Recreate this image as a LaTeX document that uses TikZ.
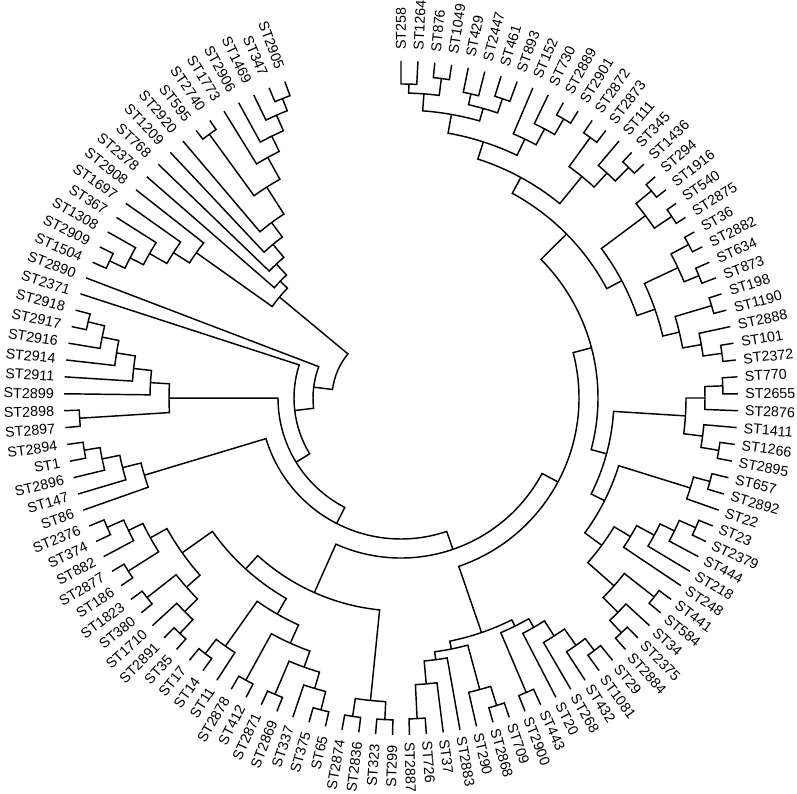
\documentclass[tikz,border=0pt]{standalone}
\usepackage{fontspec}
\setmainfont{Liberation Sans}
\begin{document}
\begin{tikzpicture}[x=1pt,y=1pt,
  br/.style={line width=1.45pt},
  lab/.style={font=\fontsize{14.3}{16}\selectfont, inner sep=0pt}]
\useasboundingbox (-401,-395) rectangle (396,398);
\def\RL{337}
\newcommand\Lf[3]{%
  \pgfmathsetmacro\myang{90-(#2-1)*2.88}%
  \expandafter\xdef\csname ang@#1\endcsname{\myang}%
  \coordinate (#1) at (\myang:\RL pt);%
  \ifdim\myang pt>-90pt
    \pgfmathsetmacro\myr{344+4*max(0,sin(\myang))}%
    \node[lab,rotate=\myang,anchor=west] (T#1) at (\myang:\myr pt) {#3};%
  \else
    \pgfmathsetmacro\myr{347+4*max(0,sin(\myang))}%
    \pgfmathsetmacro\myrot{\myang+180}%
    \node[lab,rotate=\myrot,anchor=east] (T#1) at (\myang:\myr pt) {#3};%
  \fi}
\newcommand\Nd[4]{%
  \edef\myA{\csname ang@#2\endcsname}%
  \edef\myB{\csname ang@#3\endcsname}%
  \pgfmathsetmacro\myM{(\myA+\myB)/2}%
  \expandafter\xdef\csname ang@#1\endcsname{\myM}%
  \draw[br] (#2) -- (\myA:#4pt) arc[start angle=\myA, end angle=\myB, radius=#4pt] -- (#3);%
  \coordinate (#1) at (\myM:#4pt);}
% leaves
\Lf{L1}{1}{ST258}\Lf{L2}{2}{ST1264}\Lf{L3}{3}{ST876}\Lf{L4}{4}{ST1049}
\Lf{L5}{5}{ST429}\Lf{L6}{6}{ST2447}\Lf{L7}{7}{ST461}\Lf{L8}{8}{ST893}
\Lf{L9}{9}{ST152}\Lf{L10}{10}{ST730}\Lf{L11}{11}{ST2889}\Lf{L12}{12}{ST2901}
\Lf{L13}{13}{ST2872}\Lf{L14}{14}{ST2873}\Lf{L15}{15}{ST111}\Lf{L16}{16}{ST345}
\Lf{L17}{17}{ST1436}\Lf{L18}{18}{ST294}\Lf{L19}{19}{ST1916}\Lf{L20}{20}{ST540}
\Lf{L21}{21}{ST2875}\Lf{L22}{22}{ST36}\Lf{L23}{23}{ST2882}\Lf{L24}{24}{ST634}
\Lf{L25}{25}{ST873}\Lf{L26}{26}{ST198}\Lf{L27}{27}{ST1190}\Lf{L28}{28}{ST2888}
\Lf{L29}{29}{ST101}\Lf{L30}{30}{ST2372}\Lf{L31}{31}{ST770}\Lf{L32}{32}{ST2655}
\Lf{L33}{33}{ST2876}\Lf{L34}{34}{ST1411}\Lf{L35}{35}{ST1266}\Lf{L36}{36}{ST2895}
\Lf{L37}{37}{ST657}\Lf{L38}{38}{ST2892}\Lf{L39}{39}{ST22}\Lf{L40}{40}{ST23}
\Lf{L41}{41}{ST2379}\Lf{L42}{42}{ST444}\Lf{L43}{43}{ST218}\Lf{L44}{44}{ST248}
\Lf{L45}{45}{ST441}\Lf{L46}{46}{ST584}\Lf{L47}{47}{ST34}\Lf{L48}{48}{ST2375}
\Lf{L49}{49}{ST2884}\Lf{L50}{50}{ST29}\Lf{L51}{51}{ST1081}\Lf{L52}{52}{ST432}
\Lf{L53}{53}{ST268}\Lf{L54}{54}{ST20}\Lf{L55}{55}{ST443}\Lf{L56}{56}{ST2900}
\Lf{L57}{57}{ST709}\Lf{L58}{58}{ST2868}\Lf{L59}{59}{ST290}\Lf{L60}{60}{ST2883}
\Lf{L61}{61}{ST37}\Lf{L62}{62}{ST726}\Lf{L63}{63}{ST2887}\Lf{L64}{64}{ST299}
\Lf{L65}{65}{ST323}\Lf{L66}{66}{ST2836}\Lf{L67}{67}{ST2874}\Lf{L68}{68}{ST65}
\Lf{L69}{69}{ST375}\Lf{L70}{70}{ST337}\Lf{L71}{71}{ST2869}\Lf{L72}{72}{ST2871}
\Lf{L73}{73}{ST412}\Lf{L74}{74}{ST2878}\Lf{L75}{75}{ST11}\Lf{L76}{76}{ST14}
\Lf{L77}{77}{ST17}\Lf{L78}{78}{ST35}\Lf{L79}{79}{ST2891}\Lf{L80}{80}{ST1710}
\Lf{L81}{81}{ST380}\Lf{L82}{82}{ST1823}\Lf{L83}{83}{ST186}\Lf{L84}{84}{ST2877}
\Lf{L85}{85}{ST882}\Lf{L86}{86}{ST374}\Lf{L87}{87}{ST2376}\Lf{L88}{88}{ST86}
\Lf{L89}{89}{ST147}\Lf{L90}{90}{ST2896}\Lf{L91}{91}{ST1}\Lf{L92}{92}{ST2894}
\Lf{L93}{93}{ST2897}\Lf{L94}{94}{ST2898}\Lf{L95}{95}{ST2899}\Lf{L96}{96}{ST2911}
\Lf{L97}{97}{ST2914}\Lf{L98}{98}{ST2916}\Lf{L99}{99}{ST2917}\Lf{L100}{100}{ST2918}
\Lf{L101}{101}{ST2371}\Lf{L102}{102}{ST2890}\Lf{L103}{103}{ST1504}\Lf{L104}{104}{ST2909}
\Lf{L105}{105}{ST1308}\Lf{L106}{106}{ST367}\Lf{L107}{107}{ST1697}\Lf{L108}{108}{ST2908}
\Lf{L109}{109}{ST2378}\Lf{L110}{110}{ST768}\Lf{L111}{111}{ST1209}\Lf{L112}{112}{ST2920}
\Lf{L113}{113}{ST595}\Lf{L114}{114}{ST2740}\Lf{L115}{115}{ST1773}\Lf{L116}{116}{ST2906}
\Lf{L117}{117}{ST1469}\Lf{L118}{118}{ST347}\Lf{L119}{119}{ST2905}
% top
\Nd{a1}{L1}{L2}{314}\Nd{a2}{L3}{L4}{322}\Nd{a3}{a1}{a2}{305}
\Nd{a4}{L5}{L6}{312}\Nd{a5}{L7}{L8}{316}\Nd{a6}{a4}{a5}{301}
\Nd{a7}{a3}{a6}{288}
\Nd{b1}{L11}{L12}{323}\Nd{b2}{L10}{b1}{305}\Nd{b3}{L9}{b2}{287}
\Nd{c}{a7}{b3}{269}
\Nd{d1}{L13}{L14}{322}\Nd{d2}{L16}{L17}{324}\Nd{d3}{L15}{d2}{305}
\Nd{d4}{d1}{d3}{286}
\Nd{e}{c}{d4}{251}
% right
\Nd{f1}{L18}{L19}{325}\Nd{f2}{L20}{L21}{326}\Nd{f3}{f1}{f2}{305}
\Nd{g1}{L22}{L23}{326}\Nd{g2}{L24}{L25}{322}\Nd{g3}{g1}{g2}{306}
\Nd{h0}{L26}{L27}{324}\Nd{h1}{L29}{L30}{324}\Nd{h2}{L28}{h1}{305}
\Nd{H}{h0}{h2}{286}\Nd{gh}{g3}{H}{269}\Nd{fg}{f3}{gh}{250}
\Nd{EF}{e}{fg}{233}
\Nd{i1}{L31}{L32}{322}\Nd{i2}{i1}{L33}{304}\Nd{i3}{L35}{L36}{322}
\Nd{i4}{L34}{i3}{304}\Nd{i5}{i2}{i4}{285}
\Nd{j1}{L37}{L38}{320}\Nd{j2}{j1}{L39}{303}
\Nd{k1}{L40}{L41}{322}\Nd{k2}{k1}{L42}{304}\Nd{k3}{k2}{L43}{288}
\Nd{k4}{k3}{L44}{268}
\Nd{l1}{L45}{L46}{322}\Nd{m1}{L48}{L49}{322}\Nd{m2}{L47}{m1}{305}
\Nd{lm}{l1}{m2}{284}\Nd{KL}{k4}{lm}{249}\Nd{Z}{j2}{KL}{228}
\Nd{IZ}{i5}{Z}{213}\Nd{N198}{EF}{IZ}{197}
% bottom right
\Nd{n1}{L50}{L51}{318}\Nd{n2}{n1}{L52}{303}\Nd{n3}{n2}{L53}{283}
\Nd{n4}{n3}{L54}{265}\Nd{p1}{L55}{L56}{320}\Nd{np}{n4}{p1}{255}
\Nd{o1}{L57}{L58}{322}\Nd{o2}{o1}{L59}{302}
\Nd{q1}{L62}{L63}{321}\Nd{q2}{L61}{q1}{287}\Nd{q3}{L60}{q2}{264}
\Nd{oq}{o2}{q3}{256}\Nd{W}{np}{oq}{248}
\Nd{N180}{N198}{W}{178}
% bottom
\Nd{r1}{L64}{L65}{322}\Nd{r2}{L66}{L67}{322}\Nd{r3}{r1}{r2}{304}
\Nd{ac1}{L68}{L69}{322}\Nd{ac2}{ac1}{L70}{303}\Nd{p72}{L71}{L72}{322}
\Nd{ac3}{ac2}{p72}{286}\Nd{ab1}{L73}{L74}{322}\Nd{ad}{ac3}{ab1}{269}
\Nd{aa1}{L76}{L77}{322}\Nd{aa2}{L75}{aa1}{304}\Nd{ae}{ad}{aa2}{249}
\Nd{z7}{L78}{L79}{323}\Nd{z8}{L80}{z7}{304}\Nd{z5}{L81}{L82}{323}
\Nd{z9}{z8}{z5}{286}\Nd{z3}{L83}{L84}{323}\Nd{z1}{L86}{L87}{321}
\Nd{z2}{L85}{z1}{303}\Nd{z4}{z3}{z2}{287}\Nd{z10}{z9}{z4}{268}
\Nd{t}{ae}{z10}{231}\Nd{s}{r3}{t}{213}
\Nd{N158}{N180}{s}{160}
% left
\Nd{y1}{L91}{L92}{321}\Nd{y2}{L90}{y1}{305}\Nd{y3}{L89}{y2}{287}
\Nd{y4}{L88}{y3}{268}
\Nd{N141}{N158}{y4}{141}
\Nd{x6}{L93}{L94}{322}\Nd{x1}{L99}{L100}{322}\Nd{x2}{L98}{x1}{305}
\Nd{x3}{L97}{x2}{288}\Nd{x4}{L96}{x3}{269}\Nd{x5}{L95}{x4}{251}
\Nd{x7}{x6}{x5}{232}
\Nd{N123}{N141}{x7}{123}\Nd{N107}{N123}{L101}{107}\Nd{N88}{N107}{L102}{88}
% upper left
\Nd{u1}{L103}{L104}{322}\Nd{u2}{u1}{L105}{305}\Nd{u3}{u2}{L106}{290}
\Nd{u4}{u3}{L107}{270}\Nd{u5}{u4}{L108}{251}
\Nd{v1}{L118}{L119}{322}\Nd{v2}{L117}{v1}{309}\Nd{v3}{L116}{v2}{292}
\Nd{v4}{L115}{v3}{275}\Nd{w1}{L113}{L114}{326}\Nd{v5}{w1}{v4}{250}
\Nd{v6}{L112}{v5}{218}\Nd{v7}{L111}{v6}{200}\Nd{v8}{L110}{v7}{183}
\Nd{v9}{L109}{v8}{168}
\Nd{U}{u5}{v9}{158}
\Nd{root}{N88}{U}{69}
\end{tikzpicture}
\end{document}
